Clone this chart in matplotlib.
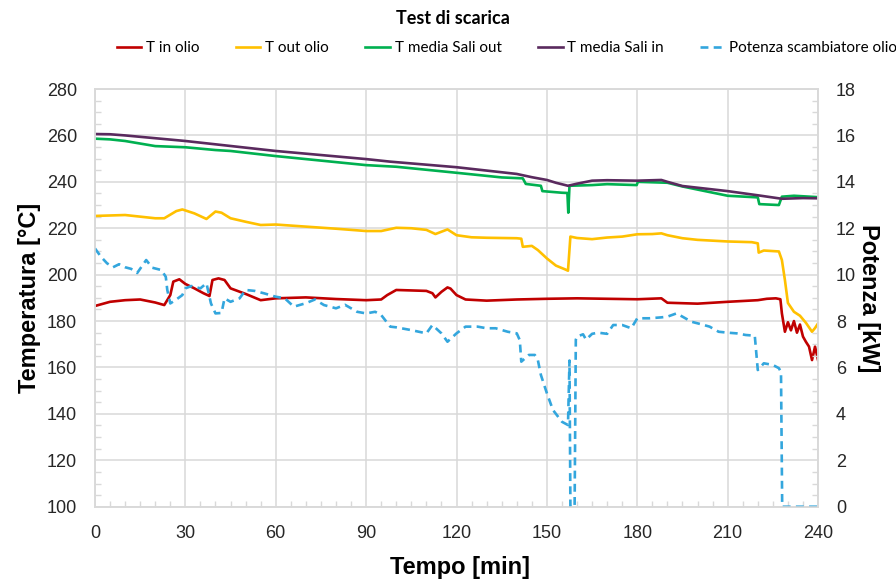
import numpy as np
import matplotlib.pyplot as plt
from matplotlib.ticker import MultipleLocator

plt.rcParams['font.family'] = ['Liberation Sans', 'DejaVu Sans']

# T in olio
t_in = [0, 5, 10, 15, 20, 23, 25, 26, 28, 30, 33, 36, 38, 39, 41, 43, 45, 50, 55, 60, 70, 80, 90, 95, 97,
        100, 110, 112, 113, 115, 117, 118, 120, 123, 130, 140, 150, 160, 170, 180, 188, 190, 200, 210, 220,
        223, 226, 227.5, 228, 229, 230, 231, 232, 233, 234, 235, 236, 237, 238, 239, 240]
T_in = [186.5, 188.3, 189.0, 189.3, 188.0, 186.9, 191.2, 197.0, 198.0, 196.0, 194.1, 192.0, 190.8, 197.7,
        198.4, 197.7, 194.1, 191.7, 189.0, 189.8, 190.2, 189.5, 189.0, 189.3, 191.2, 193.4, 193.0, 192.0,
        190.2, 192.6, 194.5, 194.0, 191.2, 189.3, 188.8, 189.3, 189.6, 189.8, 189.6, 189.4, 189.8, 187.9,
        187.5, 188.3, 189.0, 189.6, 189.8, 189.4, 183.3, 175.4, 179.5, 176.0, 180.0, 175.0, 178.5, 173.3,
        171.0, 169.0, 163.2, 169.0, 163.2]

# T out olio
t_out = [0, 10, 20, 23, 27, 29, 33, 37, 40, 42, 45, 50, 55, 60, 70, 80, 90, 95, 100, 105, 110, 113, 117,
         120, 125, 130, 140, 141.5, 142, 145, 147, 150, 153, 156, 157, 157.8, 160, 165, 170, 175, 180, 185,
         188, 190, 195, 200, 210, 218, 220, 220.3, 222, 227, 228, 229, 230, 232, 234, 236, 238, 239, 240]
T_out = [225.3, 225.7, 224.3, 224.3, 227.4, 228.1, 226.4, 224.0, 227.2, 226.7, 224.3, 222.8, 221.4, 221.6,
         220.7, 219.8, 218.8, 218.8, 220.2, 220.0, 219.3, 217.5, 219.5, 217.0, 216.1, 215.9, 215.7, 215.5,
         212.0, 212.4, 210.6, 207.0, 203.9, 202.3, 201.7, 216.4, 215.8, 215.3, 216.0, 216.4, 217.4, 217.5,
         217.8, 217.0, 215.7, 215.0, 214.3, 214.0, 213.5, 209.5, 210.4, 210.0, 206.3, 197.7, 187.8, 184.0,
         182.3, 179.2, 175.4, 177.0, 179.0]

# T media Sali out
t_sout = [0, 5, 10, 20, 30, 40, 45, 60, 90, 100, 120, 135, 142, 143, 148, 148.5, 155, 156.8, 157.1, 157.5,
          165, 170, 179.8, 180.2, 190, 195, 210, 220, 220.5, 227, 228, 232, 240]
T_sout = [258.6, 258.3, 257.6, 255.4, 254.9, 253.7, 253.3, 251.1, 247.2, 246.5, 243.9, 241.9, 241.5, 239.1,
          238.3, 236.0, 235.3, 235.2, 226.7, 238.3, 238.6, 239.0, 238.6, 240.0, 239.6, 238.0, 234.0, 233.3,
          230.4, 230.0, 233.6, 234.0, 233.4]

# T media Sali in
t_sin = [0, 5, 10, 30, 60, 90, 98, 120, 140, 145, 150, 153, 157, 160, 165, 170, 180, 188, 190, 195, 210,
         220, 228, 235, 240]
T_sin = [260.6, 260.5, 260.0, 257.6, 253.3, 249.8, 248.7, 246.3, 243.4, 242.0, 240.8, 239.6, 238.3, 239.2,
         240.5, 240.7, 240.5, 240.8, 240.0, 238.2, 236.0, 234.2, 232.7, 233.0, 232.9]

# Potenza scambiatore olio [kW]
t_pow = [0, 2, 4, 6, 8, 10, 12, 14, 17, 19, 22, 23.5, 24, 25, 27, 29, 30, 32, 35, 37, 38.5, 40, 42, 43, 45,
         48, 50, 53, 56, 60, 63, 66, 70, 73, 76, 80, 83, 87, 90, 93, 95, 98, 100, 105, 110, 112, 115, 117,
         120, 123, 127, 130, 133, 137, 140, 141, 141.5, 144, 146, 147, 148, 150, 152, 155, 157, 157.5, 157.8,
         159.2, 159.6, 160, 162, 163, 165, 167, 170, 172, 175, 178, 180, 184, 188, 190, 193, 195, 198, 201,
         204, 207, 210, 213, 216, 219, 220, 222, 225, 227, 227.7, 228.1, 240]
P = [11.13, 10.77, 10.49, 10.32, 10.45, 10.32, 10.25, 10.07, 10.63, 10.30, 10.20, 9.91, 9.34, 8.76, 8.93,
     9.12, 9.41, 9.51, 9.41, 9.63, 8.76, 8.33, 8.35, 8.98, 8.83, 8.98, 9.34, 9.30, 9.20, 9.05, 8.98, 8.62,
     8.77, 8.93, 8.69, 8.55, 8.70, 8.40, 8.33, 8.40, 8.26, 7.76, 7.73, 7.61, 7.47, 7.83, 7.47, 7.11, 7.47,
     7.76, 7.76, 7.69, 7.69, 7.54, 7.47, 7.18, 6.25, 6.54, 6.54, 6.32, 5.68, 4.89, 4.17, 3.66, 3.52, 6.30,
     0.0, 0.0, 7.20, 7.33, 7.43, 7.20, 7.45, 7.50, 7.45, 7.83, 7.83, 7.69, 8.12, 8.12, 8.16, 8.19, 8.33,
     8.19, 7.97, 7.87, 7.76, 7.54, 7.50, 7.47, 7.40, 7.37, 5.89, 6.18, 6.11, 5.97, 5.80, 0.0, 0.0]

c_red = '#C00000'
c_yel = '#FFC000'
c_grn = '#00B050'
c_pur = '#5A2A5E'
c_blu = '#33A6DD'
grid_c = '#D9D9D9'

fig = plt.figure(figsize=(8.96, 5.86), dpi=100)
ax = fig.add_axes([0.106, 0.1353, 0.807, 0.7128])
ax2 = ax.twinx()

l1, = ax.plot(t_in, T_in, color=c_red, lw=1.9, label='T in olio')
l2, = ax.plot(t_out, T_out, color=c_yel, lw=1.9, label='T out olio')
l3, = ax.plot(t_sout, T_sout, color=c_grn, lw=1.9, label='T media Sali out')
l4, = ax.plot(t_sin, T_sin, color=c_pur, lw=1.9, label='T media Sali in')
l5, = ax2.plot(t_pow, P, color=c_blu, lw=1.9, ls=(0, (3, 2)), label='Potenza scambiatore olio')

ax.set_xlim(0, 240)
ax.set_ylim(100, 280)
ax2.set_ylim(0, 18)
ax.xaxis.set_major_locator(MultipleLocator(30))
ax.xaxis.set_minor_locator(MultipleLocator(5))
ax.yaxis.set_major_locator(MultipleLocator(20))
ax.yaxis.set_minor_locator(MultipleLocator(5))
ax2.yaxis.set_major_locator(MultipleLocator(2))
ax2.yaxis.set_minor_locator(MultipleLocator(0.5))

ax.grid(True, which='major', color=grid_c, lw=1.1)
ax.set_axisbelow(True)
for a in (ax, ax2):
    for s in a.spines.values():
        s.set_color(grid_c)
        s.set_linewidth(1.1)

ax.tick_params(axis='both', which='major', length=0, pad=13, labelsize=13, labelcolor='#262626')
ax.tick_params(axis='both', which='minor', direction='in', length=4, color=grid_c, width=1)
ax2.tick_params(axis='y', which='major', length=0, pad=13, labelsize=13, labelcolor='#262626')
ax2.tick_params(axis='y', which='minor', direction='in', length=4, color=grid_c, width=1)

lab_font = dict(fontsize=17, fontweight='bold', color='black')
ax.set_xlabel('Tempo [min]', **lab_font)
ax.set_ylabel('Temperatura [°C]', **lab_font)
ax2.set_ylabel('Potenza [kW]', rotation=270, va='center', **lab_font)
ax.xaxis.set_label_coords(0.505, -0.118)
ax.yaxis.set_label_coords(-0.074, 0.5)
ax2.yaxis.set_label_coords(1.07, 0.5)

narrow = ['Lato', 'DejaVu Sans']
fig.text(0.505, 0.968, 'Test di scarica', ha='center', va='center', fontsize=13, fontweight='bold',
         family=narrow)
fig.legend(handles=[l1, l2, l3, l4, l5], loc='center', bbox_to_anchor=(0.566, 0.918), ncol=5,
           frameon=False, prop=dict(family=narrow, size=11), handlelength=1.6, handletextpad=0.3,
           columnspacing=2.4)

fig.savefig('out.png', dpi=100)
